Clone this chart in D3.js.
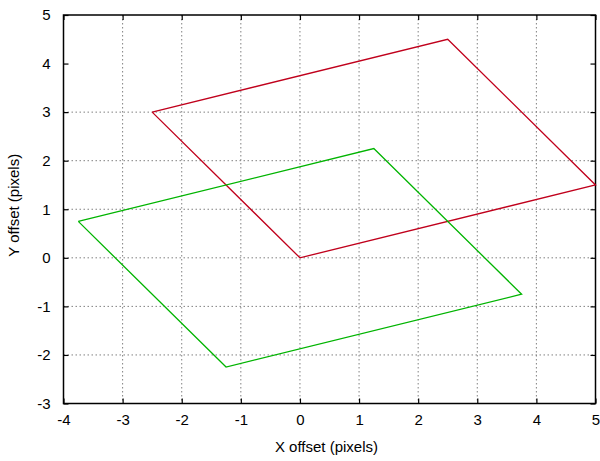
<!DOCTYPE html>
<html>
<head>
<meta charset="utf-8">
<script src="https://cdn.jsdelivr.net/npm/d3@7"></script>
<style>
  body { margin: 0; background: #fff; }
  svg text { font-family: "Liberation Sans", Arial, sans-serif; font-size: 15px; fill: #000; }
</style>
</head>
<body>
<div id="chart"></div>
<script>
// outlines of the two offset quads (closed polygons)
const redX = [-2.5, 2.5, 5, 0, -2.5];
const redY = [3, 4.5, 1.5, 0, 3];
const greenX = [-3.75, 1.25, 3.75, -1.25, -3.75];
const greenY = [0.75, 2.25, -0.75, -2.25, 0.75];

const xTicks = [-4, -3, -2, -1, 0, 1, 2, 3, 4, 5];
const yTicks = [-3, -2, -1, 0, 1, 2, 3, 4, 5];
const xGrid = [-3, -2, -1, 0, 1, 2, 3, 4];
const yGrid = [-2, -1, 0, 1, 2, 3];

const W = 600, H = 461;
const margin = {top: 15, right: 4.5, bottom: 57.5, left: 63.5};
const width = W - margin.left - margin.right;
const height = H - margin.top - margin.bottom;

const xScale = d3.scaleLinear().domain([-4, 5]).range([0, width]);
const yScale = d3.scaleLinear().domain([-3, 5]).range([height, 0]);

const svg = d3.select("#chart")
  .append("svg")
  .attr("width", W)
  .attr("height", H)
  .append("g")
  .attr("transform", "translate(" + margin.left + "," + margin.top + ")");

// grid
svg.selectAll("line.vgrid")
  .data(xGrid)
  .enter()
  .append("line")
  .attr("x1", d => xScale(d)).attr("x2", d => xScale(d))
  .attr("y1", 0).attr("y2", height)
  .attr("stroke", "#808080").attr("stroke-width", 1)
  .attr("stroke-dasharray", "1.5,2.5");

svg.selectAll("line.hgrid")
  .data(yGrid)
  .enter()
  .append("line")
  .attr("x1", 0).attr("x2", width)
  .attr("y1", d => yScale(d)).attr("y2", d => yScale(d))
  .attr("stroke", "#808080").attr("stroke-width", 1)
  .attr("stroke-dasharray", "1.5,2.5");

// axes: inward ticks, mirrored on top/right; plain hyphen minus like the original
const plain = d => String(d);
const axisB = d3.axisBottom(xScale).tickValues(xTicks).tickFormat(plain).tickSizeInner(-5).tickSizeOuter(0).tickPadding(11);
const axisT = d3.axisTop(xScale).tickValues(xTicks).tickSizeInner(-5).tickSizeOuter(0).tickFormat("");
const axisL = d3.axisLeft(yScale).tickValues(yTicks).tickFormat(plain).tickSizeInner(-5).tickSizeOuter(0).tickPadding(13);
const axisR = d3.axisRight(yScale).tickValues(yTicks).tickSizeInner(-5).tickSizeOuter(0).tickFormat("");

function styleAxis(g) {
  g.select(".domain").remove();
  g.selectAll(".tick line").attr("stroke", "#000").attr("stroke-width", 1.2);
  g.selectAll("text").attr("font-size", 15).attr("font-family", "Liberation Sans, Arial, sans-serif");
}

svg.append("g").attr("transform", "translate(0," + height + ")").call(axisB).call(styleAxis);
svg.append("g").call(axisT).call(styleAxis);
svg.append("g").call(axisL).call(styleAxis);
svg.append("g").attr("transform", "translate(" + width + ",0)").call(axisR).call(styleAxis);

// border
svg.append("rect")
  .attr("x", 0).attr("y", 0)
  .attr("width", width).attr("height", height)
  .attr("fill", "none")
  .attr("stroke", "#000")
  .attr("stroke-width", 1.5);

const line = d3.line()
  .x(d => xScale(d[0]))
  .y(d => yScale(d[1]));

svg.append("path")
  .datum(d3.zip(redX, redY))
  .attr("d", line)
  .attr("fill", "none")
  .attr("stroke", "#c0001c")
  .attr("stroke-width", 1.3);

svg.append("path")
  .datum(d3.zip(greenX, greenY))
  .attr("d", line)
  .attr("fill", "none")
  .attr("stroke", "#00b400")
  .attr("stroke-width", 1.3);

// axis labels
svg.append("text")
  .attr("x", width / 2 - 3)
  .attr("y", height + 48)
  .attr("text-anchor", "middle")
  .attr("font-size", 15.5)
  .text("X offset (pixels)");

svg.append("text")
  .attr("transform", "translate(" + (-45) + "," + (height / 2 - 4) + ") rotate(-90)")
  .attr("text-anchor", "middle")
  .attr("font-size", 15.5)
  .text("Y offset (pixels)");
</script>
</body>
</html>
